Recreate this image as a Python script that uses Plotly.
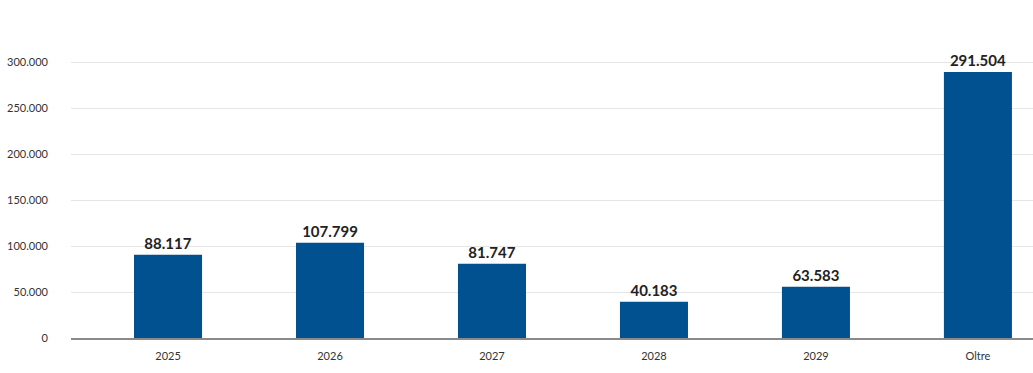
import plotly.graph_objects as go

categories = ["2025", "2026", "2027", "2028", "2029", "Oltre"]
bar_heights = [90500, 103600, 80800, 39500, 55800, 289500]
bar_labels = ["88.117", "107.799", "81.747", "40.183", "63.583", "291.504"]
y_ticks = [0, 50000, 100000, 150000, 200000, 250000, 300000]

fig = go.Figure(go.Bar(
    x=list(range(len(categories))),
    y=bar_heights,
    text=bar_labels,
    textposition="outside",
    cliponaxis=False,
    textfont=dict(family="Lato", size=15, color="#222222", weight="bold"),
    marker=dict(color="#01508f", line=dict(width=0)),
    width=0.42,
    hoverinfo="skip",
))

fig.update_layout(
    width=1033, height=373,
    margin=dict(l=71, r=0, t=44, b=35),
    paper_bgcolor="white", plot_bgcolor="white",
    separators=",.",
    showlegend=False,
    font=dict(family="Lato", size=11, color="#333333"),
    xaxis=dict(
        tickmode="array", tickvals=list(range(len(categories))), ticktext=categories,
        range=[-0.599, 5.34], showgrid=False, zeroline=False,
        showline=True, linecolor="#8a8a8a", linewidth=1.5,
        ticks="", ticklabelstandoff=7,
        tickfont=dict(family="Lato", size=11, color="#333333"),
    ),
    yaxis=dict(
        range=[0, 320000], tickvals=y_ticks, tickformat=",d",
        showgrid=True, gridcolor="#e6e6e6", gridwidth=1,
        zeroline=False, showline=False, ticks="",
        ticklabelstandoff=22,
        tickfont=dict(family="Lato", size=11, color="#333333"),
    ),
)

fig.write_html(
    "out.html",
    config={"displayModeBar": False, "staticPlot": True},
    post_script="document.body.style.margin='0';",
)
